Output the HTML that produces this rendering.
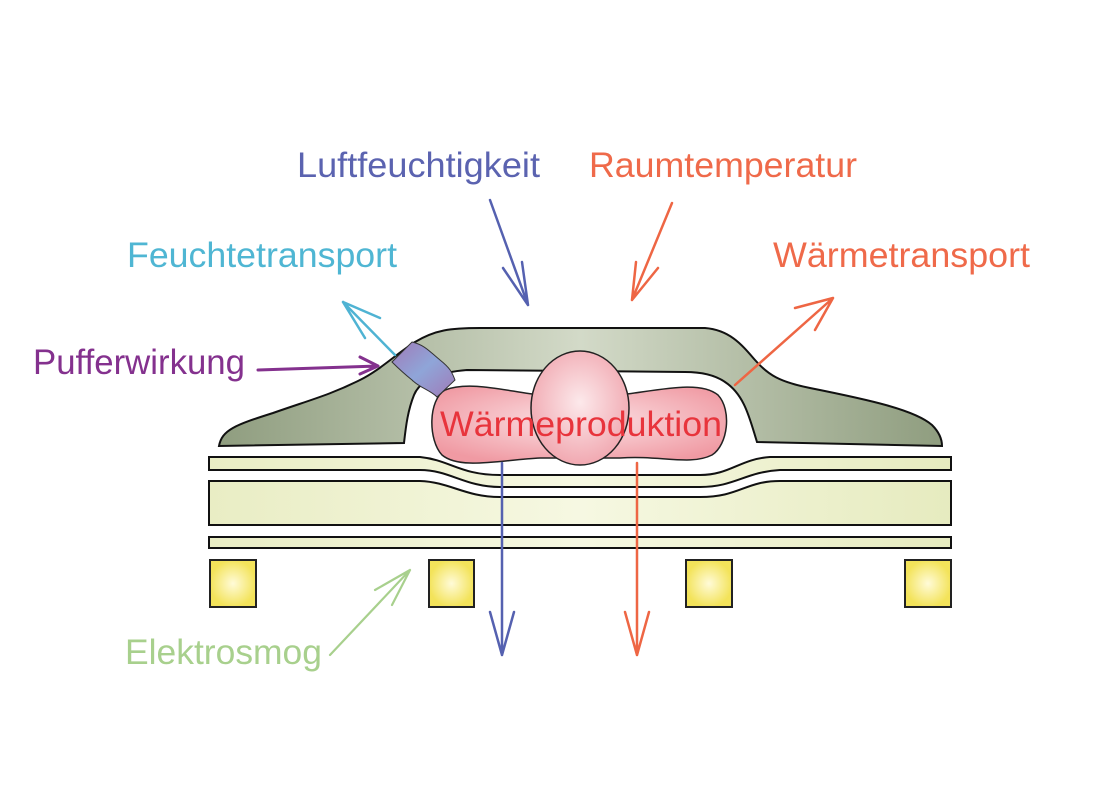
<!DOCTYPE html>
<html><head><meta charset="utf-8"><style>
html,body{margin:0;padding:0;background:#fff;}
svg{display:block;}
text{font-family:"Liberation Sans",sans-serif;font-size:35px;}
</style></head><body>
<svg width="1110" height="809" viewBox="0 0 1110 809" xmlns="http://www.w3.org/2000/svg">
<defs>
<linearGradient id="gg" x1="0" x2="1" y1="0" y2="0">
<stop offset="0" stop-color="#8f9d7f"/><stop offset="0.5" stop-color="#d3dac8"/><stop offset="1" stop-color="#8f9d7f"/></linearGradient>
<radialGradient id="pg" cx="0.5" cy="0.45" r="0.6"><stop offset="0" stop-color="#fbe3e6"/><stop offset="1" stop-color="#f09aa3"/></radialGradient>
<radialGradient id="eg" cx="0.5" cy="0.45" r="0.6"><stop offset="0" stop-color="#fce9eb"/><stop offset="1" stop-color="#f0a3ac"/></radialGradient>
<linearGradient id="yg" x1="0" x2="1"><stop offset="0" stop-color="#e9edc4"/><stop offset="0.5" stop-color="#f6f8e2"/><stop offset="1" stop-color="#e6ebbf"/></linearGradient>
<radialGradient id="sq"><stop offset="0" stop-color="#fffbd8"/><stop offset="1" stop-color="#f3e35a"/></radialGradient>
<linearGradient id="cy" x1="0" x2="1" y1="0" y2="1"><stop offset="0" stop-color="#a07ab8"/><stop offset="0.5" stop-color="#8fa5d8"/><stop offset="1" stop-color="#a07ab8"/></linearGradient>
</defs>

<path d="M219,446 C222,430 235,425 273,413 C310,400 330,395 360,380 C380,370 395,355 415,342 C435,330 450,328 480,328 L705,328 C730,330 742,345 755,360 C768,375 780,382 810,388 C870,400 915,410 932,425 C940,433 942,440 942,446 L757,442 C750,420 745,395 725,382 C715,375 700,372 685,372 L467,370 C440,372 420,380 414,395 C408,410 406,425 404,443 Z" fill="url(#gg)" stroke="#111" stroke-width="2"/>

<path d="M209,457 L420,457 C450,460 460,475 500,475 L700,475 C730,475 740,459 770,457 L951,457 L951,470 L780,470 C745,472 735,487 700,487 L500,487 C465,487 450,470 420,470 L209,470 Z" fill="url(#yg)" stroke="#111" stroke-width="2"/>
<path d="M209,481 L420,481 C450,482 465,497 500,497 L700,497 C740,497 745,481 780,481 L951,481 L951,525 L209,525 Z" fill="url(#yg)" stroke="#111" stroke-width="2"/>
<rect x="209" y="537" width="742" height="11" fill="url(#yg)" stroke="#111" stroke-width="2"/>

<rect x="210" y="560" width="46" height="47" fill="url(#sq)" stroke="#222" stroke-width="2"/>
<rect x="429" y="560" width="45" height="47" fill="url(#sq)" stroke="#222" stroke-width="2"/>
<rect x="686" y="560" width="46" height="47" fill="url(#sq)" stroke="#222" stroke-width="2"/>
<rect x="905" y="560" width="46" height="47" fill="url(#sq)" stroke="#222" stroke-width="2"/>

<path d="M445,390 C470,380 510,392 540,395 L620,395 C660,390 700,380 718,395 C732,410 728,445 712,455 C690,466 660,455 620,458 L540,458 C500,460 460,470 442,455 C428,440 428,400 445,390 Z" fill="url(#pg)" stroke="#222" stroke-width="1.5"/>
<ellipse cx="580" cy="408" rx="49" ry="57" fill="url(#eg)" stroke="#222" stroke-width="1.5"/>
<text x="440" y="436" fill="#e8343c" textLength="282" lengthAdjust="spacingAndGlyphs">Wärmeproduktion</text>

<path d="M392,362 L412,342 C425,345 430,352 440,360 C450,368 452,372 455,380 L437,397 C430,390 420,388 412,380 C402,372 398,368 392,362 Z" fill="url(#cy)" stroke="#333" stroke-width="1"/>

<g fill="none" stroke-linecap="round">
<g stroke="#5561b0" stroke-width="2.5">
<path d="M490,200 L528,305 M528,305 L503,268 M528,305 L522,262"/>
<path d="M502,463 L502,655 M502,655 L490,612 M502,655 L514,612"/>
</g>
<g stroke="#ee6644" stroke-width="2.5">
<path d="M672,203 L632,300 M632,300 L636,262 M632,300 L658,268"/>
<path d="M637,463 L637,655 M637,655 L625,612 M637,655 L649,612"/>
<path d="M735,385 L833,298 M833,298 L795,308 M833,298 L815,330"/>
</g>
<path stroke="#4fb3d3" stroke-width="2.5" d="M395,355 L343,302 M343,302 L380,318 M343,302 L365,338"/>
<path stroke="#84318e" stroke-width="3" d="M258,370 L378,366 M378,366 L360,357 M378,366 L360,374"/>
<path stroke="#a8d08d" stroke-width="2.2" d="M330,655 L410,570 M410,570 L375,590 M410,570 L392,605"/>
</g>

<text x="297" y="177" fill="#5b63b0" textLength="243" lengthAdjust="spacingAndGlyphs">Luftfeuchtigkeit</text>
<text x="589" y="177" fill="#ef6a4a" textLength="268" lengthAdjust="spacingAndGlyphs">Raumtemperatur</text>
<text x="127" y="267" fill="#4fb6d3" textLength="270" lengthAdjust="spacingAndGlyphs">Feuchtetransport</text>
<text x="773" y="267" fill="#ef6a4a" textLength="257" lengthAdjust="spacingAndGlyphs">Wärmetransport</text>
<text x="33" y="374" fill="#84318e" textLength="212" lengthAdjust="spacingAndGlyphs">Pufferwirkung</text>
<text x="125" y="664" fill="#a8d08d" textLength="197" lengthAdjust="spacingAndGlyphs">Elektrosmog</text>
</svg>
</body></html>
